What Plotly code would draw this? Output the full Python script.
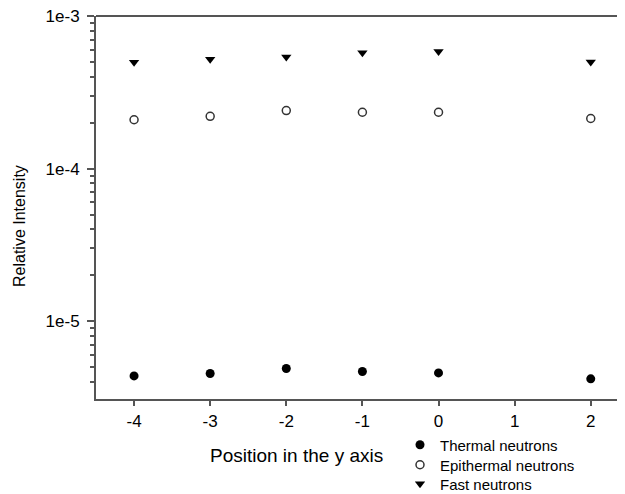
import plotly.graph_objects as go

positions = [-4, -3, -2, -1, 0, 2]
thermal = [4.38e-6, 4.54e-6, 4.90e-6, 4.68e-6, 4.58e-6, 4.19e-6]
epithermal = [2.09e-4, 2.20e-4, 2.40e-4, 2.34e-4, 2.34e-4, 2.13e-4]
fast = [4.97e-4, 5.20e-4, 5.38e-4, 5.75e-4, 5.85e-4, 4.99e-4]

x_ticks = [-4, -3, -2, -1, 0, 1, 2]
x_tick_text = ["-4", "-3", "-2", "-1", "0", "1", "2"]
y_major = [1e-5, 1e-4, 1e-3]
y_major_text = ["1e-5", "1e-4", "1e-3"]
y_minor = [m * 10.0**e for e in (-6, -5, -4) for m in range(2, 10) if 3e-6 <= m * 10.0**e < 1e-3]

FONT = "Liberation Sans, Arial, sans-serif"
AX = "#555555"
OFF = 8  # page body margin
FW, FH = 625 - OFF, 494 - OFF
L, T = 96 - OFF, 16 - OFF
W, H = FW - L, 399 - 16

def px_x(p):
    return (p - OFF - L) / W

def px_y(p):
    return 1 - (p - OFF - T) / H

fig = go.Figure()
fig.add_trace(go.Scatter(x=positions, y=thermal, mode="markers", name="Thermal neutrons",
                         legend="legend",
                         marker=dict(symbol="circle", size=9, color="black")))
fig.add_trace(go.Scatter(x=positions, y=epithermal, mode="markers", name="Epithermal neutrons",
                         legend="legend2",
                         marker=dict(symbol="circle-open", size=8, color="#333333", line=dict(width=1.5))))
fig.add_trace(go.Scatter(x=positions, y=fast, mode="markers", name="Fast neutrons",
                         legend="legend3",
                         marker=dict(symbol="triangle-down", size=9, color="black")))

def leg(ypx):
    return dict(x=px_x(400), xanchor="left", y=px_y(ypx), yanchor="middle",
                font=dict(size=15, family=FONT), bgcolor="rgba(0,0,0,0)",
                itemsizing="trace")

fig.update_layout(
    width=FW, height=FH,
    margin=dict(l=L, r=FW - L - W, t=T, b=FH - T - H, autoexpand=False),
    plot_bgcolor="white", paper_bgcolor="white",
    font=dict(family=FONT, color="black"),
    showlegend=True,
    legend=leg(445), legend2=leg(465), legend3=leg(484),
    xaxis=dict(range=[-4.5, 2.45], tickvals=x_ticks, ticktext=x_tick_text, ticks="outside",
               ticklen=5, tickwidth=1.5, ticklabelstandoff=1, ticklabeloverflow="allow",
               tickcolor=AX, showline=True, linecolor=AX, linewidth=2, showgrid=False, zeroline=False,
               tickfont=dict(size=17, family=FONT)),
    yaxis=dict(type="log", range=[-5.51, -2.9999], tickvals=y_major, ticktext=y_major_text,
               ticks="outside", ticklen=7, tickwidth=1.5, tickcolor=AX, ticklabelstandoff=4,
               ticklabeloverflow="allow",
               minor=dict(tickvals=y_minor, ticks="outside", ticklen=4, tickwidth=1.5, tickcolor=AX, showgrid=False),
               showline=True, linecolor=AX, linewidth=2, showgrid=False, zeroline=False,
               tickfont=dict(size=17, family=FONT)),
    shapes=[dict(type="line", xref="paper", yref="paper", x0=0, x1=1, y0=1, y1=1,
                 line=dict(color=AX, width=2))],
    annotations=[
        dict(text="Position in the y axis", xref="paper", yref="paper",
             x=px_x(296), y=px_y(455), xanchor="center", yanchor="middle",
             showarrow=False, font=dict(size=19, family=FONT)),
        dict(text="Relative Intensity", xref="paper", yref="paper", textangle=-90,
             x=px_x(19), y=px_y(226), xanchor="center", yanchor="middle",
             showarrow=False, font=dict(size=16, family=FONT)),
    ],
)

fig.write_html("out.html")
